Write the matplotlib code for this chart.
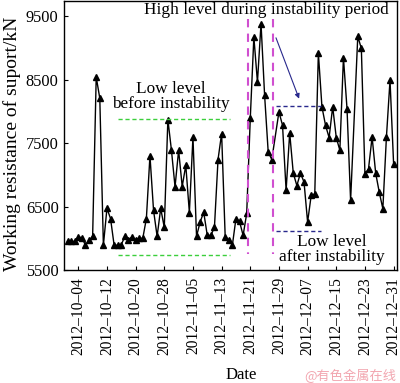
import numpy as np
import pandas as pd
import matplotlib
matplotlib.use('Agg')
import matplotlib.pyplot as plt
import matplotlib.dates as mdates

# daily support resistance, 2012-10-01 .. 2012-12-31 (no reading on 11-28 and 12-20)
dates = pd.date_range('2012-10-01', '2012-12-31').drop(pd.to_datetime(['2012-11-28', '2012-12-20']))
oct_vals = [5950, 5950, 5950, 6020, 6010, 5890, 5965, 6030, 8540, 8205,
            5890, 6470, 6310, 5890, 5890, 5900, 6030, 5980, 6020, 5980,
            6000, 6000, 6310, 7300, 6440, 6030, 6470, 6170, 7870, 7385, 6810]
nov_vals = [7385, 6815, 7150, 6405, 7595, 6030, 6255, 6410, 6045, 6045,
            6175, 7240, 7650, 6020, 5975, 5890, 6310, 6265, 6045, 6390,
            7890, 9170, 8460, 9380, 8250, 7360, 7240, 7990, 7780]
dec_vals = [6755, 7660, 7025, 6830, 7025, 6885, 6255, 6675, 6700, 8920,
            8070, 7780, 7585, 8070, 7585, 7385, 8845, 8040, 6595, 9180,
            8990, 7015, 7095, 7595, 7025, 6725, 6465, 7595, 8490, 7175]
values = oct_vals + nov_vals + dec_vals

tick_dates = ['2012-10-04', '2012-10-12', '2012-10-20', '2012-10-28', '2012-11-05', '2012-11-13',
              '2012-11-21', '2012-11-29', '2012-12-07', '2012-12-15', '2012-12-23', '2012-12-31']
yticks = [5500, 6500, 7500, 8500, 9500]

plt.rcParams['font.family'] = ['Liberation Serif', 'DejaVu Serif']
plt.rcParams['font.size'] = 11

fig = plt.figure(figsize=(4, 3.83), dpi=100)
ax = fig.add_axes([63.5 / 400, 1 - 270 / 383, 333.5 / 400, 269.5 / 383])

ax.plot(dates, values, color='black', lw=1, marker='^', ms=5, mfc='black', mec='black')

t0 = mdates.date2num(pd.Timestamp('2012-10-01'))
def d(day):
    return t0 + day

ax.set_xlim(d(-1.13), d(91.95))
ax.set_ylim(5500, 9745)
ax.set_yticks(yticks)
tk = [mdates.date2num(pd.Timestamp(t)) for t in tick_dates]
ax.set_xticks(tk)
ax.set_xticklabels([t.replace('-', '\u2013') for t in tick_dates], rotation=90)
ax.tick_params(direction='in', length=3, width=0.8, labelsize=11.8)
ax.tick_params(axis='x', pad=5, labelsize=11.2)
for s in ax.spines.values():
    s.set_linewidth(1)

ax.set_ylabel('Working resistance of suport/kN', fontsize=14)
ax.yaxis.set_label_coords(-0.128, 0.469)
fig.text(241 / 400, 1 - 375 / 383, 'Date', ha='center', va='center', fontsize=12)

# reference levels
green = '#3ccf3c'
ax.plot([d(14.1), d(45.3)], [7885, 7885], ls=(0, (3, 2)), color=green, lw=1)
ax.plot([d(14.1), d(45.3)], [5730, 5730], ls=(0, (3, 2)), color=green, lw=1)
mag = '#d04fd0'
for dx in (50.4, 57.3):
    ax.plot([d(dx), d(dx)], [9460, 5750], ls=(0, (4, 3)), color=mag, lw=1.5)
blue = '#28288c'
ax.plot([d(58.2), d(70.7)], [8080, 8080], ls=(0, (3, 2)), color=blue, lw=1)
ax.plot([d(58.2), d(70.7)], [6120, 6120], ls=(0, (3, 2)), color=blue, lw=1)
ax.annotate('', xy=(d(64.9), 8157), xytext=(d(57.9), 9198),
            arrowprops=dict(arrowstyle='-|>', color=blue, lw=0.8, mutation_scale=7))

ax.text(0.609, 0.963, 'High level during instability period', transform=ax.transAxes,
        ha='center', va='center', fontsize=12.4)
ax.text(0.322, 0.644, 'Low level\nbefore instability', transform=ax.transAxes,
        ha='center', va='center', fontsize=12.4, linespacing=0.95)
ax.text(0.805, 0.076, 'Low level\nafter instability', transform=ax.transAxes,
        ha='center', va='center', fontsize=12.4, linespacing=0.95)

fig.text(350 / 400, 1 - 376 / 383, '@有色金属在线', ha='center', va='center', fontsize=9.5,
         color='#f2a6b0', family=['Noto Sans CJK SC', 'DejaVu Sans'])

fig.savefig('out.png', dpi=100)
